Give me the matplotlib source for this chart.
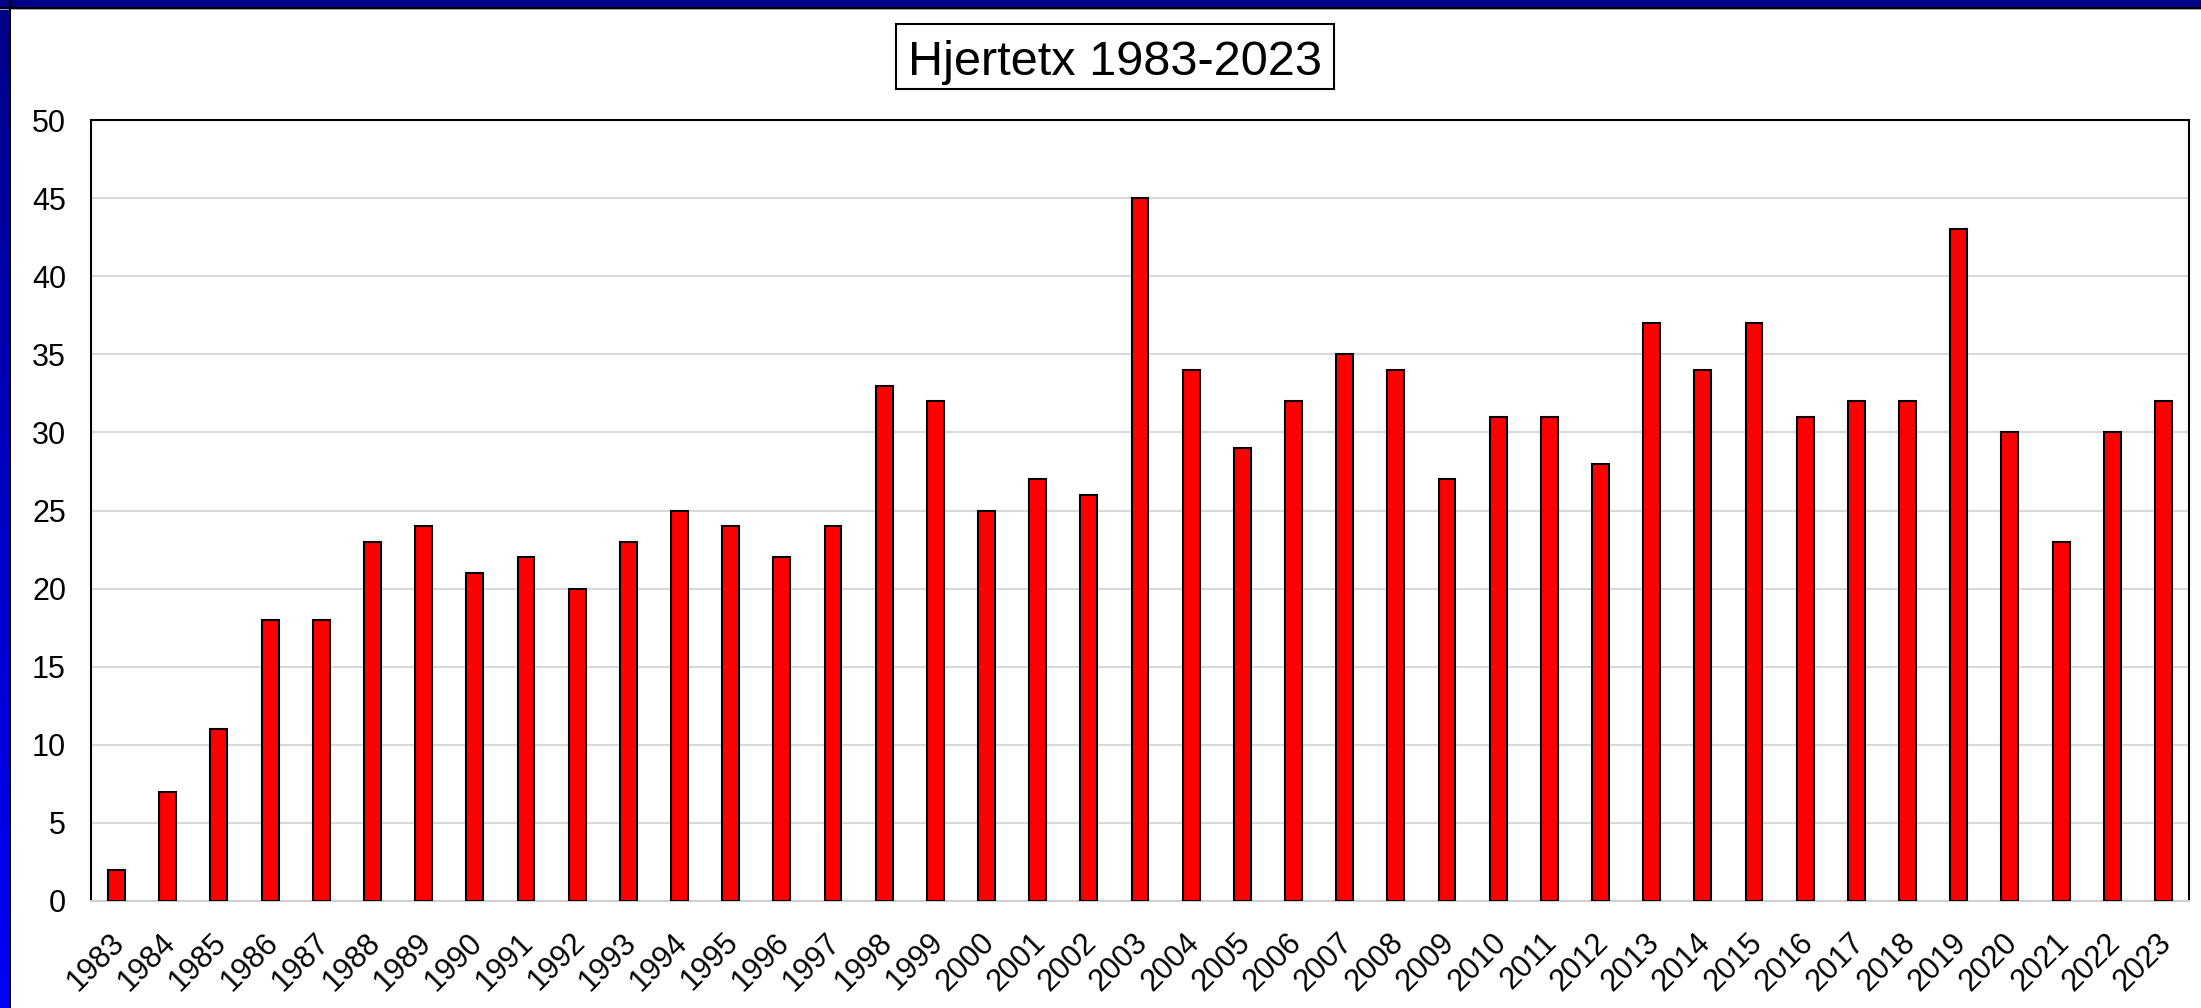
import numpy as np
import matplotlib
matplotlib.use("Agg")
import matplotlib.pyplot as plt
import matplotlib.transforms as mtransforms
from matplotlib.patches import Rectangle

# Data
years = [str(y) for y in range(1983, 2024)]
counts = [2, 7, 11, 18, 18, 23, 24, 21, 22, 20,
          23, 25, 24, 22, 24, 33, 32, 25, 27, 26,
          45, 34, 29, 32, 35, 34, 27, 31, 31, 28,
          37, 34, 37, 31, 32, 32, 43, 30, 23, 30, 32]
yticks = list(range(0, 55, 5))

plt.rcParams["font.family"] = ["Liberation Sans", "DejaVu Sans"]

W, H = 2201, 1008
fig = plt.figure(figsize=(W / 100, H / 100), dpi=100)
fig.patch.set_facecolor("white")

# ─ frame: navy top strip, gradient left strip ──────────────────────────
fig.patches.append(Rectangle((0, 1 - 7 / H), 1, 7 / H, transform=fig.transFigure,
                             facecolor="#000088", edgecolor="none", zorder=0))
fig.patches.append(Rectangle((0, 1 - 9 / H), 1, 2 / H, transform=fig.transFigure,
                             facecolor="black", edgecolor="none", zorder=0))
fig.patches.append(Rectangle((0, 1 - 10 / H), 1, 1 / H, transform=fig.transFigure,
                             facecolor="#a0a0a0", edgecolor="none", zorder=0))
gax = fig.add_axes([0, 0, 9 / W, 1])
grad = np.zeros((256, 1, 3))
grad[:, 0, 2] = np.linspace(0.53, 1.0, 256)
gax.imshow(grad, aspect="auto", extent=(0, 1, 0, 1), origin="upper")
gax.axis("off")
fig.patches.append(Rectangle((9 / W, 0), 2 / W, 1, transform=fig.transFigure,
                             facecolor="black", edgecolor="none", zorder=0))

# ─ main chart ──────────────────────────────────────────────────────────
ax = fig.add_axes([91 / W, 1 - 901 / H, (2189 - 91) / W, (901 - 120) / H])
x = np.arange(len(years))
ax.bar(x, counts, width=0.33, color="#ff0000", edgecolor="black",
       linewidth=1.5, zorder=3)

ax.set_xlim(-0.5, len(years) - 0.5)
ax.set_ylim(0, 50)
ax.set_yticks(yticks)
ax.set_xticks(x)
ax.set_xticklabels(years, rotation=45, ha="right", fontsize=22)
ax.tick_params(axis="both", length=0)
ax.tick_params(axis="y", labelsize=22, pad=18)
ax.tick_params(axis="x", pad=19)
shift = mtransforms.ScaledTranslation(14 / 100, 0, fig.dpi_scale_trans)
for lab in ax.get_xticklabels():
    lab.set_transform(lab.get_transform() + shift)
ax.yaxis.grid(True, color="#d9d9d9", linewidth=1.5, zorder=0)
ax.set_axisbelow(True)
for side in ("top", "left", "right"):
    ax.spines[side].set_color("black")
    ax.spines[side].set_linewidth(1.5)
ax.spines["bottom"].set_color("#d0d0d0")
ax.spines["bottom"].set_linewidth(1.5)

# title in a framed box
fig.patches.append(Rectangle((896 / W, 1 - 89 / H), (1334 - 896) / W, 65 / H,
                             transform=fig.transFigure, facecolor="white",
                             edgecolor="black", linewidth=1.5, zorder=1))
fig.text(1115 / W, 1 - 75 / H, "Hjertetx 1983-2023", fontsize=35,
         ha="center", va="baseline", zorder=2)

fig.savefig("out.png", dpi=100, facecolor="white")
